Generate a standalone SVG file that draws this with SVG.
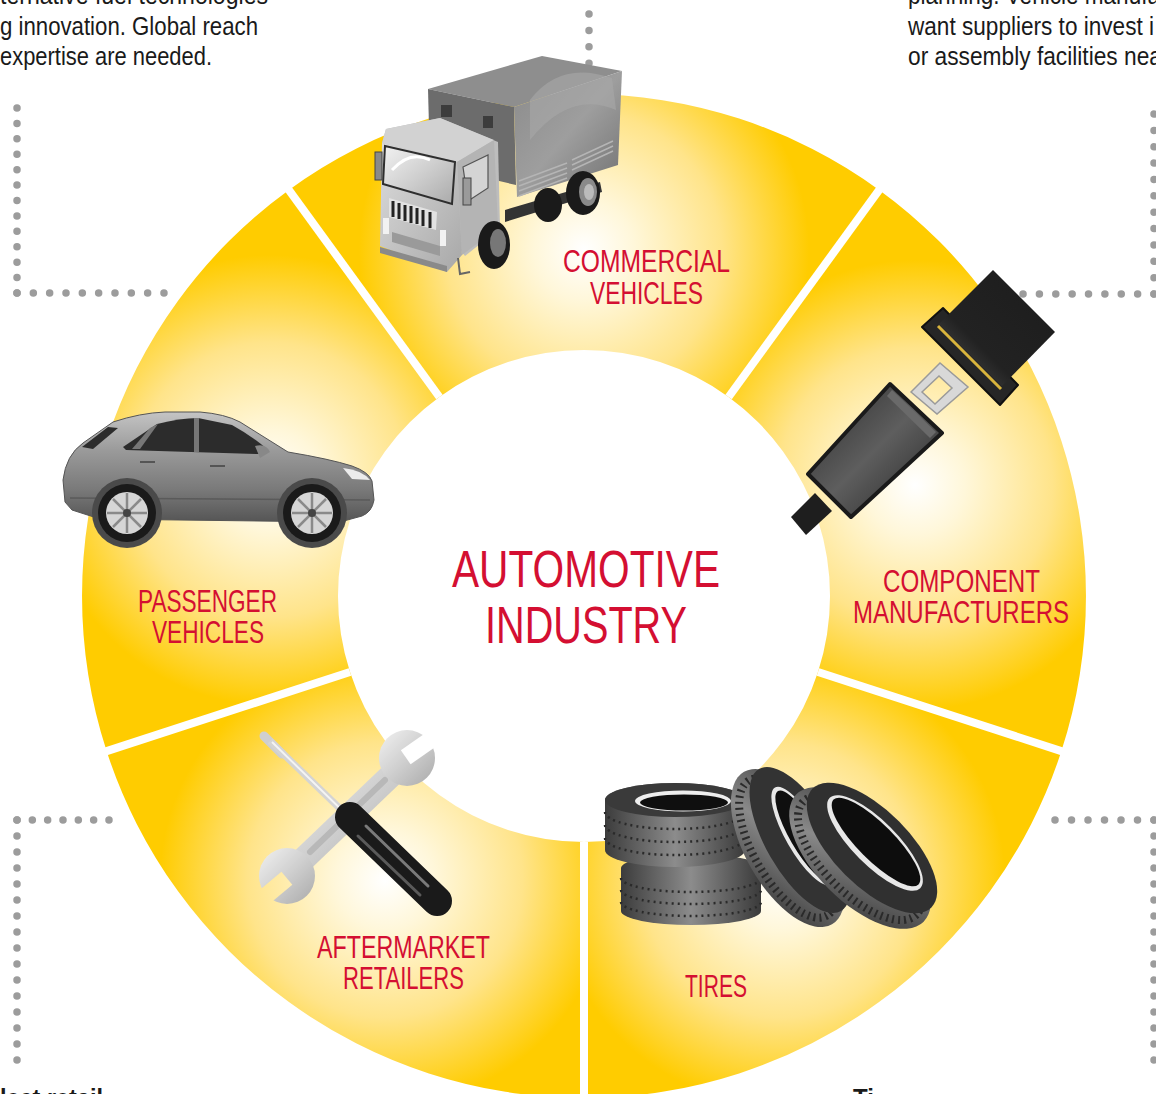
<svg xmlns="http://www.w3.org/2000/svg" width="1156" height="1094" viewBox="0 0 1156 1094">
<defs>
<style>
.lbl{font-family:"Liberation Sans","DejaVu Sans",sans-serif;font-size:31px;fill:#D40F32;}
.big{font-family:"Liberation Sans","DejaVu Sans",sans-serif;font-size:52px;fill:#D40F32;}
.body{font-family:"Liberation Sans","DejaVu Sans",sans-serif;font-size:25px;fill:#1a1a1a;}
.head{font-family:"Liberation Sans","DejaVu Sans",sans-serif;font-size:24px;font-weight:bold;fill:#1a1a1a;}
.dots{fill:none;stroke:#9c9c9c;stroke-width:7.5;stroke-linecap:round;}
.sep{stroke:#fff;stroke-width:8;}
</style>
<radialGradient id="gC" gradientUnits="userSpaceOnUse" cx="584" cy="250" r="250"><stop offset="0" stop-color="#fff"/><stop offset="0.2" stop-color="#FFF7DA"/><stop offset="0.55" stop-color="#FFE48A"/><stop offset="0.9" stop-color="#FFCC00"/></radialGradient>
<radialGradient id="gM" gradientUnits="userSpaceOnUse" cx="915" cy="485" r="250"><stop offset="0" stop-color="#fff"/><stop offset="0.2" stop-color="#FFF7DA"/><stop offset="0.55" stop-color="#FFE48A"/><stop offset="0.9" stop-color="#FFCC00"/></radialGradient>
<radialGradient id="gT" gradientUnits="userSpaceOnUse" cx="780" cy="880" r="250"><stop offset="0" stop-color="#fff"/><stop offset="0.2" stop-color="#FFF7DA"/><stop offset="0.55" stop-color="#FFE48A"/><stop offset="0.9" stop-color="#FFCC00"/></radialGradient>
<radialGradient id="gA" gradientUnits="userSpaceOnUse" cx="385" cy="880" r="250"><stop offset="0" stop-color="#fff"/><stop offset="0.2" stop-color="#FFF7DA"/><stop offset="0.55" stop-color="#FFE48A"/><stop offset="0.9" stop-color="#FFCC00"/></radialGradient>
<radialGradient id="gP" gradientUnits="userSpaceOnUse" cx="270" cy="480" r="250"><stop offset="0" stop-color="#fff"/><stop offset="0.2" stop-color="#FFF7DA"/><stop offset="0.55" stop-color="#FFE48A"/><stop offset="0.9" stop-color="#FFCC00"/></radialGradient>
<linearGradient id="metal" x1="0" y1="0" x2="1" y2="1"><stop offset="0" stop-color="#f2f2f2"/><stop offset="0.5" stop-color="#cfcfcf"/><stop offset="1" stop-color="#a9a9a9"/></linearGradient>
<linearGradient id="cab" x1="0" y1="0" x2="1" y2="1"><stop offset="0" stop-color="#dcdcdc"/><stop offset="1" stop-color="#a8a8a8"/></linearGradient>
<linearGradient id="box" x1="0" y1="0" x2="1" y2="1"><stop offset="0" stop-color="#8a8a8a"/><stop offset="0.5" stop-color="#9e9e9e"/><stop offset="1" stop-color="#707070"/></linearGradient>
<linearGradient id="carbody" x1="0" y1="0" x2="0" y2="1"><stop offset="0" stop-color="#c4c4c4"/><stop offset="0.35" stop-color="#9a9a9a"/><stop offset="0.7" stop-color="#7a7a7a"/><stop offset="1" stop-color="#555"/></linearGradient>
<linearGradient id="dark" x1="0" y1="0" x2="1" y2="1"><stop offset="0" stop-color="#2a2a2a"/><stop offset="0.5" stop-color="#5e5e5e"/><stop offset="1" stop-color="#222"/></linearGradient>
<linearGradient id="strap" x1="0" y1="1" x2="1" y2="0"><stop offset="0" stop-color="#555"/><stop offset="0.35" stop-color="#222"/><stop offset="1" stop-color="#1c1c1c"/></linearGradient>
<linearGradient id="tread" x1="0" y1="0" x2="1" y2="0"><stop offset="0" stop-color="#3c3c3c"/><stop offset="0.5" stop-color="#8c8c8c"/><stop offset="1" stop-color="#3a3a3a"/></linearGradient>
<linearGradient id="tread2" x1="0" y1="0" x2="1" y2="1"><stop offset="0" stop-color="#3a3a3a"/><stop offset="0.45" stop-color="#8a8a8a"/><stop offset="1" stop-color="#2e2e2e"/></linearGradient>
<mask id="wm" maskUnits="userSpaceOnUse" x="0" y="0" width="1156" height="1094">
<rect x="0" y="0" width="1156" height="1094" fill="#fff"/>
<rect x="402" y="738" width="38" height="17" fill="#000" transform="rotate(-35 421 746)"/>
<rect x="253" y="882" width="38" height="17" fill="#000" transform="rotate(-40 272 890)"/>
</mask>
</defs>
<rect width="1156" height="1094" fill="#fff"/>

<g id="connectors">
<path class="dots" stroke-dasharray="0 15.42" d="M17,293 V107.5"/>
<path class="dots" stroke-dasharray="0 16.33" d="M17,293 H164.5"/>
<path class="dots" stroke-dasharray="0 16.4" d="M589,14 V63.5"/>
<path class="dots" stroke-dasharray="0 16.36" d="M1154,294 V113.5"/>
<path class="dots" stroke-dasharray="0 16.37" d="M1154,294 H1022.5"/>
<path class="dots" stroke-dasharray="0 15.33" d="M17,820 H109.5"/>
<path class="dots" stroke-dasharray="0 16" d="M17,820 V1060.5"/>
<path class="dots" stroke-dasharray="0 16.5" d="M1154,820 H1054.5"/>
<path class="dots" stroke-dasharray="0 16" d="M1154,820 V1060.5"/>
</g>

<g id="texts">
<text class="body" x="0" y="4" textLength="268" lengthAdjust="spacingAndGlyphs">ternative fuel technologies</text>
<text class="body" x="0" y="35" textLength="258" lengthAdjust="spacingAndGlyphs">g innovation. Global reach</text>
<text class="body" x="0" y="65" textLength="212" lengthAdjust="spacingAndGlyphs">expertise are needed.</text>
<text class="body" x="908" y="4" textLength="252" lengthAdjust="spacingAndGlyphs">planning. Vehicle manufa</text>
<text class="body" x="908" y="35" textLength="246" lengthAdjust="spacingAndGlyphs">want suppliers to invest i</text>
<text class="body" x="908" y="65" textLength="254" lengthAdjust="spacingAndGlyphs">or assembly facilities nea</text>
<text class="head" x="0" y="1106" textLength="103" lengthAdjust="spacingAndGlyphs">lect retail</text>
<text class="head" x="853" y="1106">Ti</text>
</g>

<g id="ring">
<path id="seg-commercial" fill="url(#gC)" d="M288.9,189.9 A502,502 0 0 1 879.1,189.9 L728.6,397 A246,246 0 0 0 439.4,397 Z"/>
<path id="seg-component" fill="url(#gM)" d="M879.1,189.9 A502,502 0 0 1 1061.4,751.1 L818,672 A246,246 0 0 0 728.6,397 Z"/>
<path id="seg-tires" fill="url(#gT)" d="M1061.4,751.1 A502,502 0 0 1 584,1098 L584,842 A246,246 0 0 0 818,672 Z"/>
<path id="seg-aftermarket" fill="url(#gA)" d="M584,1098 A502,502 0 0 1 106.6,751.1 L350,672 A246,246 0 0 0 584,842 Z"/>
<path id="seg-passenger" fill="url(#gP)" d="M106.6,751.1 A502,502 0 0 1 288.9,189.9 L439.4,397 A246,246 0 0 0 350,672 Z"/>
<line class="sep" x1="439.4" y1="397" x2="284.1" y2="183.4"/>
<line class="sep" x1="728.6" y1="397" x2="883.9" y2="183.4"/>
<line class="sep" x1="818" y1="672" x2="1069" y2="753.6"/>
<line class="sep" x1="584" y1="842" x2="584" y2="1106"/>
<line class="sep" x1="350" y1="672" x2="99" y2="753.6"/>
</g>

<g id="center">
<text class="big" x="452" y="587" textLength="268" lengthAdjust="spacingAndGlyphs">AUTOMOTIVE</text>
<text class="big" x="485" y="643" textLength="202" lengthAdjust="spacingAndGlyphs">INDUSTRY</text>
</g>

<g id="commercial-vehicles">
<polygon points="428,89 542,56 622,71 514,107" fill="#8e8e8e"/>
<polygon points="428,89 514,107 516,185 430,165" fill="#6c6c6c"/>
<rect x="441" y="105" width="11" height="12" fill="#3c3c3c"/>
<rect x="483" y="116" width="10" height="12" fill="#3c3c3c"/>
<polygon points="514,107 622,71 618,165 517,197" fill="url(#box)"/>
<path d="M530,100 Q560,60 612,78 L616,110 Q570,90 530,140 Z" fill="#a8a8a8" opacity="0.6"/>
<g stroke="#b5b5b5" stroke-width="1.5">
<line x1="519" y1="181" x2="567" y2="163"/><line x1="519" y1="186" x2="567" y2="168"/><line x1="519" y1="191" x2="567" y2="173"/><line x1="519" y1="196" x2="567" y2="178"/>
<line x1="572" y1="160" x2="613" y2="141"/><line x1="572" y1="165" x2="613" y2="146"/><line x1="572" y1="170" x2="613" y2="151"/>
</g>
<polygon points="505,210 600,182 602,192 505,222" fill="#333"/>
<ellipse cx="548" cy="205" rx="14" ry="17" fill="#1a1a1a"/>
<ellipse cx="583" cy="193" rx="17" ry="22" fill="#1a1a1a"/>
<ellipse cx="588" cy="192" rx="9" ry="14" fill="#8a8a8a"/>
<ellipse cx="589" cy="192" rx="5" ry="8" fill="#bbb"/>
<polygon points="386,129 440,118 498,142 500,228 465,256 382,143" fill="#bdbdbd"/>
<polygon points="386,129 440,118 494,140 457,162 382,143" fill="#d2d2d2"/>
<polygon points="457,162 494,140 498,228 462,255" fill="#b4b4b4"/>
<polygon points="382,143 457,162 462,255 447,272 380,246" fill="url(#cab)"/>
<polygon points="385,146 455,162 452,204 383,184" fill="url(#metal)" stroke="#2e2e2e" stroke-width="2"/>
<path d="M392,170 Q410,150 430,160" stroke="#fff" stroke-width="3" fill="none"/>
<polygon points="463,167 488,155 488,188 468,201" fill="#d4d4d4" stroke="#555" stroke-width="1.2"/>
<polygon points="389,198 437,212 436,230 389,217" fill="#e2e2e2"/>
<g stroke="#222" stroke-width="3">
<line x1="393" y1="201" x2="393" y2="217"/><line x1="399" y1="203" x2="399" y2="219"/><line x1="405" y1="205" x2="405" y2="221"/><line x1="411" y1="206" x2="411" y2="223"/><line x1="417" y1="208" x2="417" y2="224"/><line x1="423" y1="210" x2="423" y2="226"/><line x1="430" y1="212" x2="430" y2="228"/>
</g>
<rect x="383" y="218" width="6" height="16" fill="#f2f2f2"/>
<rect x="440" y="230" width="6" height="16" fill="#f2f2f2"/>
<polygon points="392,232 440,246 440,256 392,242" fill="#9a9a9a"/>
<polygon points="380,247 447,266 447,272 380,253" fill="#8a8a8a"/>
<rect x="375" y="152" width="7" height="28" fill="#8a8a8a" stroke="#444" stroke-width="1"/>
<rect x="463" y="178" width="8" height="27" fill="#9a9a9a" stroke="#444" stroke-width="1"/>
<ellipse cx="494" cy="245" rx="16" ry="24" fill="#1a1a1a"/>
<ellipse cx="498" cy="243" rx="8" ry="14" fill="#777"/>
<path d="M458,258 L460,274 L470,272" stroke="#666" stroke-width="2" fill="none"/>
<text class="lbl" x="563" y="272" textLength="167" lengthAdjust="spacingAndGlyphs">COMMERCIAL</text>
<text class="lbl" x="590" y="304" textLength="113" lengthAdjust="spacingAndGlyphs">VEHICLES</text>
</g>

<g id="component-manufacturers">
<polygon points="922,327 943,308 1018,385 1000,405" fill="#262626" stroke="#111" stroke-width="2" stroke-linejoin="round"/>
<polygon points="993,270 1055,332 1002,386 939,324" fill="url(#strap)"/>
<line x1="938" y1="326" x2="1001" y2="389" stroke="#d8b43c" stroke-width="3"/>
<path fill-rule="evenodd" fill="#d8d8d8" stroke="#9a9a9a" stroke-width="1.5" d="M911,392 L940,363 L968,387 L937,414 Z M922,392 L939,376 L952,388 L935,404 Z"/>
<polygon points="791,517 815,493 832,511 806,535" fill="#1e1e1e"/>
<polygon points="808,474 890,384 942,433 851,517" fill="url(#dark)" stroke="#1a1a1a" stroke-width="4" stroke-linejoin="round"/>
<polygon points="892,390 936,432 930,438 887,396" fill="#6a6a6a"/>
<text class="lbl" x="883" y="592" textLength="157" lengthAdjust="spacingAndGlyphs">COMPONENT</text>
<text class="lbl" x="853" y="623" textLength="216" lengthAdjust="spacingAndGlyphs">MANUFACTURERS</text>
</g>

<g id="tires">
<path d="M621,868 A70,14 0 0 1 761,868 L761,911 A70,14 0 0 1 621,911 Z" fill="url(#tread)"/>
<g fill="none" stroke="#2a2a2a" stroke-width="2.5" stroke-dasharray="2 4">
<path d="M621,878 A70,14 0 0 0 761,878"/><path d="M621,890 A70,14 0 0 0 761,890"/><path d="M621,902 A70,14 0 0 0 761,902"/>
</g>
<path d="M605,800 A70,17 0 0 1 745,800 L745,850 A70,17 0 0 1 605,850 Z" fill="url(#tread)"/>
<g fill="none" stroke="#2a2a2a" stroke-width="2.5" stroke-dasharray="2 4">
<path d="M605,812 A70,17 0 0 0 745,812"/><path d="M605,825 A70,17 0 0 0 745,825"/><path d="M605,838 A70,17 0 0 0 745,838"/>
</g>
<ellipse cx="675" cy="800" rx="70" ry="17" fill="#3a3a3a"/>
<ellipse cx="683" cy="801" rx="48" ry="10.5" fill="#eeeeee"/>
<ellipse cx="684" cy="802.5" rx="44" ry="8" fill="#0f0f0f"/>
<ellipse cx="788" cy="848" rx="88" ry="42" transform="rotate(60 788 848)" fill="url(#tread2)"/>
<ellipse cx="788" cy="848" rx="78" ry="34" transform="rotate(60 788 848)" fill="none" stroke="#2a2a2a" stroke-width="8" stroke-dasharray="2 4"/>
<ellipse cx="800" cy="840" rx="82" ry="34" transform="rotate(60 800 840)" fill="#333"/>
<ellipse cx="803" cy="836" rx="56" ry="17" transform="rotate(60 803 836)" fill="#e8e8e8"/>
<ellipse cx="804" cy="836" rx="52" ry="14" transform="rotate(60 804 836)" fill="#0f0f0f"/>
<ellipse cx="860" cy="858" rx="90" ry="44" transform="rotate(45 860 858)" fill="url(#tread2)"/>
<ellipse cx="860" cy="858" rx="80" ry="36" transform="rotate(45 860 858)" fill="none" stroke="#2a2a2a" stroke-width="8" stroke-dasharray="2 4"/>
<ellipse cx="872" cy="848" rx="84" ry="38" transform="rotate(45 872 848)" fill="#303030"/>
<ellipse cx="875" cy="843" rx="64" ry="22" transform="rotate(45 875 843)" fill="#e8e8e8"/>
<ellipse cx="876" cy="842" rx="60" ry="18" transform="rotate(45 876 842)" fill="#0d0d0d"/>
<text class="lbl" x="685" y="997" textLength="62" lengthAdjust="spacingAndGlyphs">TIRES</text>
</g>

<g id="aftermarket-retailers">
<g mask="url(#wm)">
<line x1="288" y1="874" x2="407" y2="760" stroke="url(#metal)" stroke-width="24"/>
<circle cx="407" cy="758" r="28" fill="url(#metal)"/>
<circle cx="287" cy="876" r="28" fill="url(#metal)"/>
</g>
<line x1="310" y1="852" x2="385" y2="780" stroke="#b8b8b8" stroke-width="6" stroke-linecap="round"/>
<line x1="264" y1="736" x2="282" y2="754" stroke="#cfcfcf" stroke-width="9" stroke-linecap="round"/>
<line x1="270" y1="741" x2="357" y2="825" stroke="#d4d4d4" stroke-width="7"/>
<line x1="272" y1="742" x2="355" y2="823" stroke="#f4f4f4" stroke-width="2"/>
<line x1="350" y1="817" x2="437" y2="901" stroke="#1a1a1a" stroke-width="30" stroke-linecap="round"/>
<line x1="366" y1="826" x2="428" y2="886" stroke="#7a7a7a" stroke-width="3" stroke-linecap="round"/>
<line x1="358" y1="836" x2="420" y2="895" stroke="#5a5a5a" stroke-width="3" stroke-linecap="round"/>
<text class="lbl" x="317" y="958" textLength="173" lengthAdjust="spacingAndGlyphs">AFTERMARKET</text>
<text class="lbl" x="343" y="989" textLength="121" lengthAdjust="spacingAndGlyphs">RETAILERS</text>
</g>

<g id="passenger-vehicles">
<path d="M65,502 L63,480 Q66,455 83,443 L113,422 Q140,413 165,412 L200,412 Q225,414 240,422 L288,452 Q330,459 352,466 Q369,472 372,481 L374,500 Q372,512 362,516 L340,522 L100,519 L72,510 Z" fill="url(#carbody)" stroke="#555" stroke-width="1"/>
<path d="M123,447 L157,424 Q180,418 198,418 L232,425 Q252,436 268,450 L258,454 L126,450 Z" fill="#2c2c2c"/>
<rect x="194" y="418" width="5" height="34" fill="#777"/>
<path d="M150,428 L158,424 L140,449 L132,449 Z" fill="#777"/>
<path d="M82,447 L108,427 L118,428 L93,449 Z" fill="#2c2c2c"/>
<path d="M255,446 Q266,443 270,452 L260,458 Z" fill="#888"/>
<path d="M343,468 Q362,470 370,480 L352,479 Z" fill="#ececec"/>
<path d="M70,498 L370,500" stroke="#5a5a5a" stroke-width="1.5"/>
<line x1="140" y1="462" x2="155" y2="462" stroke="#555" stroke-width="2"/>
<line x1="210" y1="466" x2="225" y2="466" stroke="#555" stroke-width="2"/>
<circle cx="127" cy="513" r="35" fill="#4a4a4a"/>
<circle cx="312" cy="513" r="35" fill="#4a4a4a"/>
<g id="wheel-rear">
<circle cx="127" cy="513" r="29" fill="#1a1a1a"/>
<circle cx="127" cy="513" r="21" fill="#d6d6d6"/>
<g stroke="#8a8a8a" stroke-width="2.5">
<line x1="127" y1="493" x2="127" y2="533"/><line x1="107" y1="513" x2="147" y2="513"/><line x1="113" y1="499" x2="141" y2="527"/><line x1="141" y1="499" x2="113" y2="527"/>
</g>
<circle cx="127" cy="513" r="4" fill="#444"/>
</g>
<g id="wheel-front">
<circle cx="312" cy="513" r="29" fill="#1a1a1a"/>
<circle cx="312" cy="513" r="21" fill="#d6d6d6"/>
<g stroke="#8a8a8a" stroke-width="2.5">
<line x1="312" y1="493" x2="312" y2="533"/><line x1="292" y1="513" x2="332" y2="513"/><line x1="298" y1="499" x2="326" y2="527"/><line x1="326" y1="499" x2="298" y2="527"/>
</g>
<circle cx="312" cy="513" r="4" fill="#444"/>
</g>
<text class="lbl" x="138" y="612" textLength="139" lengthAdjust="spacingAndGlyphs">PASSENGER</text>
<text class="lbl" x="152" y="643" textLength="112" lengthAdjust="spacingAndGlyphs">VEHICLES</text>
</g>
</svg>
